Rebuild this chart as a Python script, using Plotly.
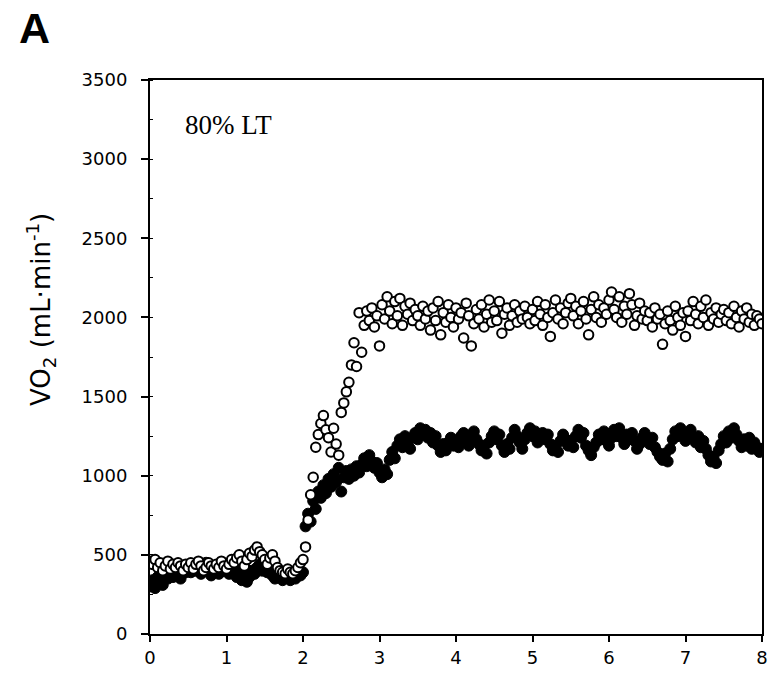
import plotly.graph_objects as go

# Breath-averaged VO2 samples, one every 2 s from 0 to 8 min
SAMPLE_S = 2

# Open symbols (upper response)
vo2_open = [
    460, 440, 470, 420, 450, 400, 430, 460, 410, 440, 420, 450, 430, 400, 440,
    420, 450, 410, 440, 460, 430, 400, 420, 450, 430, 410, 440, 420, 460, 430,
    410, 440, 470, 450, 480, 500, 460, 430, 470, 510, 490, 530, 550, 520, 500,
    470, 440, 480, 500, 460, 420, 400, 390, 380, 410, 390, 380, 400, 420, 450,
    470, 550, 720, 880, 990, 1180, 1260, 1330, 1380, 1290, 1240, 1150, 1300, 1200, 1130,
    1400, 1460, 1530, 1590, 1700, 1840, 1690, 2030, 1780, 1950, 2040, 1980, 2060, 1940, 2010,
    1820, 2080, 1990, 2130, 2040, 1960, 2100, 2010, 2120, 1950, 2070, 2020, 2090, 1980, 2050,
    2010, 1950, 2070, 1990, 2040, 1920, 2060, 1980, 2100, 1890, 2030, 1970, 2080, 2000, 1940,
    2060, 1990, 2030, 1870, 2090, 2010, 1820, 1960, 2050, 1990, 2080, 1940, 2020, 2110, 1970,
    2040, 1980, 2100, 1900, 2020, 2060, 1950, 2010, 2080, 1970, 2040, 1990, 2070, 2000, 1960,
    2050, 1980, 2100, 2020, 1950, 2080, 2000, 1880, 2030, 2110, 1990, 2060, 1960, 2030, 2090,
    2120, 2010, 2070, 1960, 2040, 2100, 1990, 1890, 2050, 2130, 2000, 2080, 1970, 2060, 2020,
    2110, 2160, 2050, 2000, 2130, 1970, 2070, 2020, 2150, 2080, 1950, 2010, 2090, 1990, 2040,
    1980, 2030, 1940, 2060, 1990, 2020, 1830, 1960, 2040, 1980, 1920, 2070, 2000, 1950, 2030,
    1880, 2040, 1980, 2100, 2020, 1960, 2070, 2000, 2110, 1950, 2030, 1990, 2060, 1970, 2020,
    2050, 1980, 2030, 1960, 2070, 2000, 1940, 2040, 1990, 2060, 1970, 2020, 1950, 2010, 1990,
    1960,
]

# Filled symbols (lower response)
vo2_filled = [
    300, 340, 290, 360, 330, 310, 380, 350, 400, 360, 420, 380, 350, 410, 390,
    420, 390, 440, 400, 430, 380, 420, 450, 400, 370, 430, 410, 380, 440, 400,
    410, 380, 420, 390, 360, 400, 340, 370, 330, 360, 400, 380, 420, 440, 400,
    430, 390, 410, 370, 350, 390, 360, 340, 380, 360, 340, 370, 350, 380, 370,
    390, 680, 760, 710, 840, 790, 900, 860, 940, 890, 980, 930, 1010, 960, 1050,
    900, 990, 1030, 980, 1040, 1000, 1060, 1020, 1070, 1110, 1060, 1130, 1090, 1050, 1080,
    1020, 990, 1040, 1010, 1100, 1150, 1110, 1190, 1230, 1180, 1250, 1200, 1170, 1240, 1270,
    1230, 1300, 1260, 1290, 1240, 1270, 1210, 1250, 1190, 1150, 1200, 1160, 1210, 1240, 1190,
    1220, 1180, 1250, 1270, 1220, 1190, 1240, 1280, 1230, 1200, 1160, 1190, 1140, 1210, 1250,
    1280, 1230, 1260, 1190, 1150, 1200, 1170, 1240, 1290, 1250, 1210, 1170, 1230, 1270, 1300,
    1250, 1280, 1210, 1240, 1270, 1230, 1260, 1200, 1160, 1190, 1150, 1220, 1260, 1230, 1190,
    1220, 1180, 1250, 1290, 1240, 1270, 1190, 1160, 1130, 1180, 1210, 1260, 1230, 1280, 1220,
    1190, 1240, 1290, 1250, 1300, 1240, 1200, 1260, 1230, 1270, 1220, 1170, 1200, 1240, 1270,
    1230, 1200, 1240, 1180, 1150, 1120, 1100, 1140, 1090, 1170, 1230, 1280, 1250, 1300, 1260,
    1220, 1260, 1290, 1240, 1210, 1250, 1180, 1220, 1170, 1130, 1090, 1120, 1080, 1160, 1200,
    1250, 1210, 1280, 1240, 1300, 1260, 1220, 1180, 1230, 1190, 1240, 1170, 1210, 1180, 1150,
    1170,
]

time_min = [i * SAMPLE_S / 60 for i in range(len(vo2_filled))]

x_ticks = [0, 1, 2, 3, 4, 5, 6, 7, 8]
y_ticks = [0, 500, 1000, 1500, 2000, 2500, 3000, 3500]

fig = go.Figure()

fig.add_trace(go.Scatter(
    x=time_min, y=vo2_filled, mode="markers",
    marker=dict(symbol="circle", size=11, color="black",
                line=dict(color="black", width=1)),
    showlegend=False,
))
fig.add_trace(go.Scatter(
    x=time_min, y=vo2_open, mode="markers",
    marker=dict(symbol="circle", size=9.5, color="white",
                line=dict(color="black", width=2)),
    showlegend=False,
))

axis_font = dict(family="DejaVu Sans", size=18, color="black")

fig.update_xaxes(
    range=[0, 8], tickvals=x_ticks, ticktext=[str(v) for v in x_ticks],
    ticks="outside", ticklen=6, tickwidth=1.5, tickcolor="black",
    showline=True, linecolor="black", linewidth=2, mirror=True,
    showgrid=False, zeroline=False, tickfont=axis_font,
)
fig.update_yaxes(
    range=[0, 3500], tickvals=y_ticks, ticktext=[str(v) for v in y_ticks],
    ticks="outside", ticklen=7, tickwidth=1.5, tickcolor="black",
    ticklabelstandoff=10,
    minor=dict(ticks="inside", ticklen=3, dtick=250, tickcolor="black", tickwidth=1),
    showline=True, linecolor="black", linewidth=2, mirror=True,
    showgrid=False, zeroline=False, tickfont=axis_font,
)

fig.add_annotation(
    text="VO<sub>2</sub> (mL·min<sup>-1</sup>)", textangle=-90,
    xref="paper", yref="paper", x=(40 - 150) / 618, y=0.585,
    xanchor="center", yanchor="middle", showarrow=False,
    font=dict(family="DejaVu Sans", size=26, color="black"),
)
fig.add_annotation(
    text="80% LT", xref="paper", yref="paper",
    x=(183 - 150) / 618, y=(635 - 125) / 555,
    xanchor="left", yanchor="middle", showarrow=False,
    font=dict(family="Liberation Serif", size=27, color="black"),
)
fig.add_annotation(
    text="<b>A</b>", xref="paper", yref="paper",
    x=(16 - 150) / 618, y=(635 - 28) / 555,
    xanchor="left", yanchor="middle", showarrow=False,
    font=dict(family="Liberation Sans", size=43, color="black"),
)

fig.update_layout(
    width=777, height=677,
    margin=dict(l=150, r=9, t=80, b=42),
    paper_bgcolor="white", plot_bgcolor="white",
)

fig.write_html("out.html")
